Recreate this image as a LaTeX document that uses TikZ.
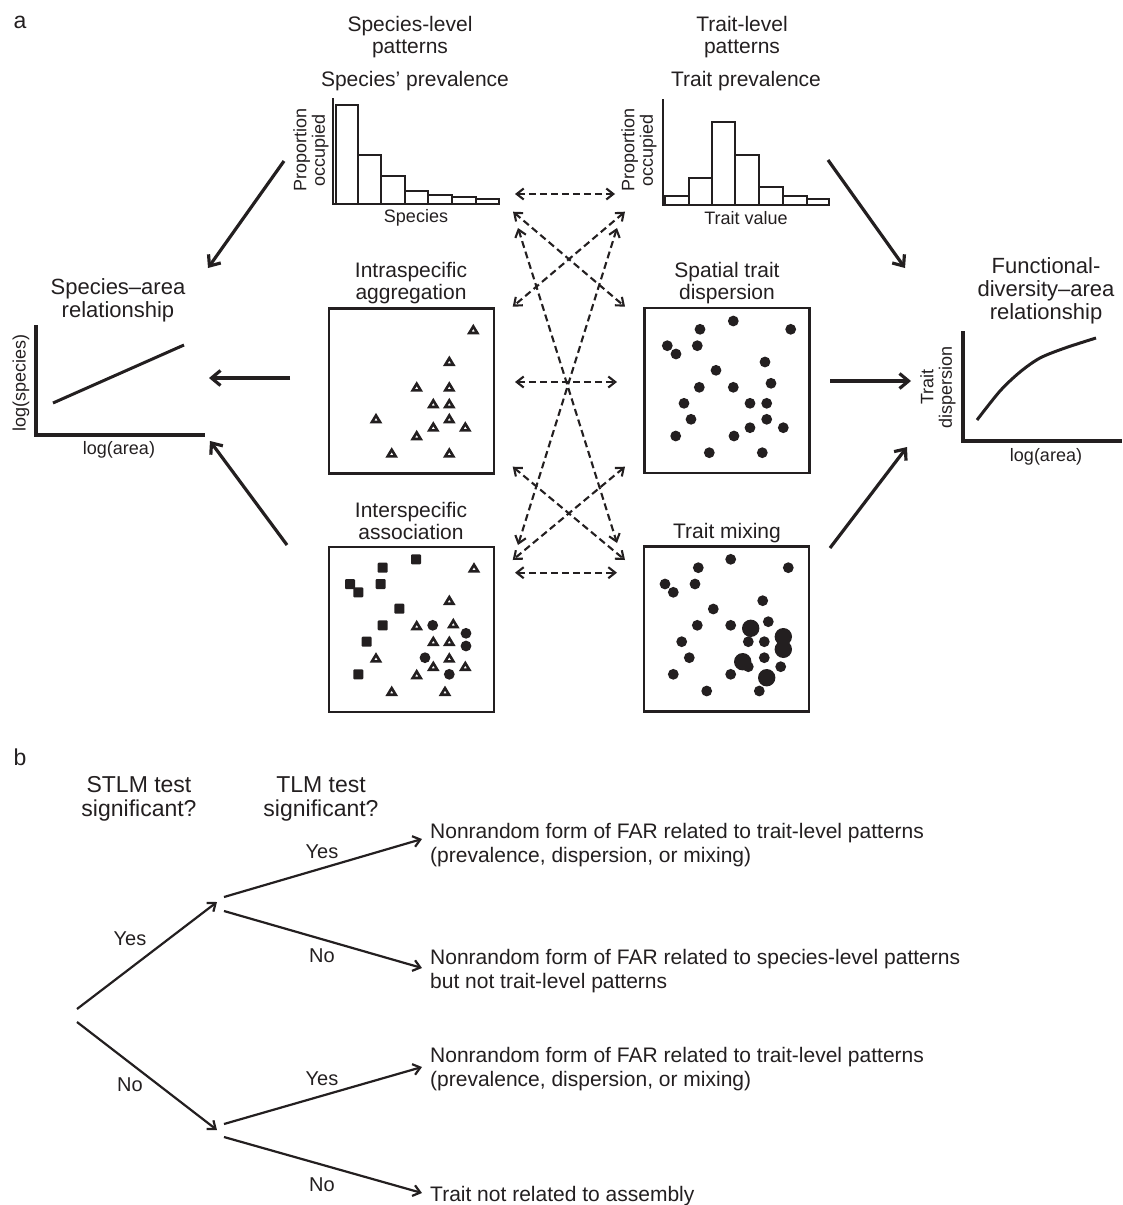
\documentclass[tikz,border=0pt]{standalone}
\usepackage{fontspec}
\setmainfont{Liberation Sans}
\usetikzlibrary{arrows.meta}
\definecolor{ink}{RGB}{35,31,32}
\begin{document}
\begin{tikzpicture}[x=1pt,y=-1pt,
  every node/.style={inner sep=0pt, text=ink},
  hd/.style={font=\fontsize{21}{22}\selectfont, align=center},
  tt/.style={font=\fontsize{22}{23}\selectfont, align=center},
  ax/.style={font=\fontsize{18}{18.5}\selectfont, align=center},
  bh/.style={font=\fontsize{23}{24}\selectfont, align=center},
  yn/.style={font=\fontsize{20}{20}\selectfont},
  outc/.style={font=\fontsize{21}{24}\selectfont, align=left, anchor=west},
  plab/.style={font=\fontsize{23}{23}\selectfont},
  panel/.style={draw=ink, line width=2.4pt, minimum width=165pt, minimum height=165pt},
  hax/.style={draw=ink, line width=2.4pt},
  hbar/.style={draw=ink, line width=2.2pt},
  sax/.style={draw=ink, line width=4pt, line cap=rect},
  scurve/.style={draw=ink, line width=3pt},
  tri/.style={draw=ink, line width=2.6pt, fill=white},
  dot/.style={fill=ink},
  sq/.style={fill=ink, rounded corners=1pt},
  dbl/.style={draw=ink, line width=2.1pt, dash pattern=on 7pt off 4pt,
    {Straight Barb[length=7pt,width=11pt]}-{Straight Barb[length=7pt,width=11pt]}},
  bigarr/.style={draw=ink, line width=3.2pt, -{Straight Barb[length=9pt,width=15pt]}},
  barr/.style={draw=ink, line width=2.2pt, -{Straight Barb[length=7pt,width=11pt]}}
]
\useasboundingbox (0,0) rectangle (1122,1205);

% ---------- panel a labels ----------
\node[plab] (la) at (20,22) {a};
\node[hd] (hsp) at (410,37) {Species-level\\patterns};
\node[hd] (htr) at (742,37) {Trait-level\\patterns};

% ---------- species histogram ----------
\node[hd] (tsp) at (415,81) {Species’ prevalence};
\draw[hax] (333,98) -- (333,204) -- (499,204);
\foreach \l/\r/\t in {336/358/105, 358/381/155, 381/405/176, 405/428/191, 428/452/195, 452/476/197, 476/499/199}
  \draw[hbar] (\l,204) rectangle (\r,\t);
\node[ax, rotate=90] (ysp) at (311,150) {Proportion\\occupied};
\node[ax] (xsp) at (416,218) {Species};

% ---------- trait histogram ----------
\node[hd] (ttr) at (746,81) {Trait prevalence};
\draw[hax] (663,99) -- (663,205) -- (829,205);
\foreach \l/\r/\t in {665/689/196, 689/712/178, 712/735/122, 735/759/155, 759/783/187, 783/807/196, 807/829/199}
  \draw[hbar] (\l,205) rectangle (\r,\t);
\node[ax, rotate=90] (ytr) at (639,150) {Proportion\\occupied};
\node[ax] (xtr) at (746,218) {Trait value};

% ---------- boxes ----------
\node[hd] (t1) at (411,283) {Intraspecific\\aggregation};
\node[hd] (t2) at (727,283) {Spatial trait\\dispersion};
\node[hd] (t3) at (411,521) {Interspecific\\association};
\node[hd] (t4) at (727,533) {Trait mixing};
\node[panel] (B1) at (411.5,391) {};
\node[panel] (B2) at (727,390.5) {};
\node[panel] (B3) at (411.5,629.5) {};
\node[panel] (B4) at (726.5,629) {};

% box 1 triangles
\foreach \x/\y in {473.3/330, 449.3/361.7, 416.7/387.3, 449.3/387.3, 433.3/404, 449.3/404, 376/419, 449.3/419, 433.3/427.3, 465.3/427.3, 416.7/436, 391.7/453.3, 449.3/453.3}
  \draw[tri] (\x,\y) +(0,-3.6) -- +(4,3) -- +(-4,3) -- cycle;

% box 2 dots
\foreach \x/\y in {733.3/321, 700/329.3, 790.7/329.3, 667.3/345.7, 697.3/345.7, 676/354, 765/362, 716/370.3, 699.3/387.3, 733.3/387.3, 771/383.3, 684/403.3, 750/403.3, 766.7/403.3, 691/419.3, 766.7/419.3, 750/427.7, 783.3/427.7, 675.7/436, 734/436, 709.3/452.7, 762.3/452.7}
  \fill[dot] (\x,\y) circle (5.4);

% box 3 squares, triangles, dots
\foreach \x/\y in {416/559.3, 382.7/567.7, 350/584, 380.7/584, 358.3/592.3, 399.3/608.7, 382.7/625.3, 366.7/641.7, 358.3/674.3}
  \fill[sq] (\x-5,\y-5) rectangle (\x+5,\y+5);
\foreach \x/\y in {474/568.3, 449.3/600.7, 416.7/626, 453.3/624, 433.3/641.7, 449.3/641.7, 376/658.3, 449.3/658.3, 433.3/666.7, 465.3/666.7, 416.7/675, 391.7/691.7, 445/691.7}
  \draw[tri] (\x,\y) +(0,-3.6) -- +(4,3) -- +(-4,3) -- cycle;
\foreach \x/\y in {432.7/625.3, 466/633.3, 466/646, 425/657.7, 449.3/674.3}
  \fill[dot] (\x,\y) circle (5.4);

% box 4 dots
\foreach \x/\y in {730.7/559.3, 698.3/567.7, 788.3/567.7, 665/584, 695/584, 673.3/592.3, 762.7/600.7, 713.3/609, 697.3/625.3, 730.7/625.3, 768.3/621.7, 681.7/641.7, 748.3/641.7, 764.3/641.7, 689.3/657.7, 764.3/657.7, 748.3/666.7, 780.7/666.7, 673.3/674.3, 730.7/674.3, 706.7/691, 759.3/691}
  \fill[dot] (\x,\y) circle (5.4);
\foreach \x/\y in {750.7/628.3, 783.3/636.7, 783.3/649.3, 742.7/661.7, 766.7/677.7}
  \fill[dot] (\x,\y) circle (8.7);

% ---------- species-area ----------
\node[tt] (tsar) at (118,300) {Species–area\\relationship};
\draw[sax] (36,327) -- (36,435) -- (203,435);
\draw[scurve] (53,403) -- (184,345);
\node[ax, rotate=90] (ysar) at (21,383) {log(species)};
\node[ax] (xsar) at (119,450) {log(area)};

% ---------- FDAR ----------
\node[tt] (tfar) at (1046,291) {Functional-\\diversity–area\\relationship};
\draw[sax] (963,333) -- (963,441) -- (1120,441);
\draw[scurve] plot[smooth] coordinates {(977,420) (1000,391) (1020,372) (1040,358) (1065,348) (1096,338)};
\node[ax, rotate=90] (yfar) at (938,387) {Trait\\dispersion};
\node[ax] (xfar) at (1046,457) {log(area)};

% ---------- dashed connections ----------
\coordinate (h1a) at (515,194);   \coordinate (h2a) at (615,194);
\coordinate (h1b) at (513,211.7); \coordinate (b2a) at (625,306.7);
\coordinate (h2b) at (625,211.7); \coordinate (b1a) at (512.7,306.7);
\coordinate (h1c) at (518,228);   \coordinate (b4a) at (617,543);
\coordinate (h2c) at (617,228);   \coordinate (b3a) at (518,545);
\coordinate (b1b) at (515,382);   \coordinate (b2b) at (617,382);
\coordinate (b1c) at (512.7,466.7); \coordinate (b4b) at (625,560);
\coordinate (b2c) at (625,466.7); \coordinate (b3b) at (512.7,560);
\coordinate (b3c) at (515,572.7); \coordinate (b4c) at (617,572.7);
\draw[dbl] (h1a) -- (h2a);
\draw[dbl] (h1b) -- (b2a);
\draw[dbl] (h2b) -- (b1a);
\draw[dbl] (h1c) -- (b4a);
\draw[dbl] (h2c) -- (b3a);
\draw[dbl] (b1b) -- (b2b);
\draw[dbl] (b1c) -- (b4b);
\draw[dbl] (b2c) -- (b3b);
\draw[dbl] (b3c) -- (b4c);

% ---------- solid arrows ----------
\coordinate (s1a) at (284,161); \coordinate (s1b) at (208,268);
\coordinate (s2a) at (290,378); \coordinate (s2b) at (209,378);
\coordinate (s3a) at (287,545); \coordinate (s3b) at (210,441);
\coordinate (s4a) at (828,160); \coordinate (s4b) at (905,268);
\coordinate (s5a) at (830,381); \coordinate (s5b) at (911,381);
\coordinate (s6a) at (830,548); \coordinate (s6b) at (907,447);
\draw[bigarr] (s1a) -- (s1b);
\draw[bigarr] (s2a) -- (s2b);
\draw[bigarr] (s3a) -- (s3b);
\draw[bigarr] (s4a) -- (s4b);
\draw[bigarr] (s5a) -- (s5b);
\draw[bigarr] (s6a) -- (s6b);

% ---------- panel b ----------
\node[plab] (lb) at (20,757) {b};
\node[bh] (hstlm) at (139,799) {STLM test\\significant?};
\node[bh] (htlm) at (321,799) {TLM test\\significant?};

\coordinate (r1) at (77,1009);  \coordinate (n1) at (217,902);
\coordinate (r2) at (77,1022);  \coordinate (n2) at (217,1130);
\coordinate (n1a) at (224,897); \coordinate (o1) at (422,839);
\coordinate (n1b) at (224,911); \coordinate (o2) at (422,968);
\coordinate (n2a) at (224,1124); \coordinate (o3) at (422,1067);
\coordinate (n2b) at (224,1137); \coordinate (o4) at (422,1193);
\draw[barr] (r1) -- (n1);
\draw[barr] (r2) -- (n2);
\draw[barr] (n1a) -- (o1);
\draw[barr] (n1b) -- (o2);
\draw[barr] (n2a) -- (o3);
\draw[barr] (n2b) -- (o4);

\node[yn] (y0) at (130,939) {Yes};
\node[yn] (n0) at (130,1085) {No};
\node[yn] (y1) at (322,852) {Yes};
\node[yn] (nn1) at (322,956) {No};
\node[yn] (y2) at (322,1079) {Yes};
\node[yn] (nn2) at (322,1185) {No};

\node[outc] (out1) at (430,845) {Nonrandom form of FAR related to trait-level patterns\\(prevalence, dispersion, or mixing)};
\node[outc] (out2) at (430,971) {Nonrandom form of FAR related to species-level patterns\\but not trait-level patterns};
\node[outc] (out3) at (430,1069) {Nonrandom form of FAR related to trait-level patterns\\(prevalence, dispersion, or mixing)};
\node[outc] (out4) at (430,1196) {Trait not related to assembly};
\end{tikzpicture}
\end{document}
